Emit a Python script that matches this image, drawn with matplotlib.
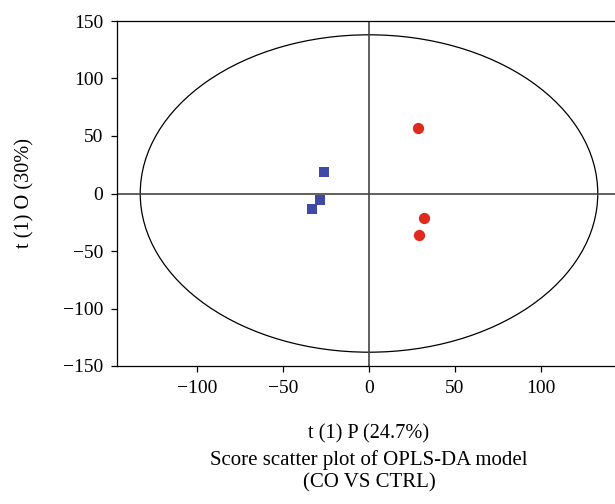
import matplotlib
matplotlib.use("Agg")
import matplotlib.pyplot as plt
from matplotlib.patches import Ellipse

# scores
co_x = [-26.2, -28.3, -33.0]
co_y = [19.0, -5.5, -13.4]
ctrl_x = [28.3, 31.9, 29.0]
ctrl_y = [57.1, -21.0, -36.0]

# Hotelling T2 ellipse half-axes
ellipse_a = 133.0
ellipse_b = 138.0

x_ticks = [-100, -50, 0, 50, 100]
y_ticks = [-150, -100, -50, 0, 50, 100, 150]

plt.rcParams['font.family'] = ['Liberation Serif', 'DejaVu Serif']

fig = plt.figure(figsize=(6.15, 5.04), dpi=100)
ax = fig.add_axes([117 / 615, 1 - 366 / 504, 504 / 615, 345 / 504])

ax.add_patch(Ellipse((0, 0), 2 * ellipse_a, 2 * ellipse_b, fill=False,
                     edgecolor='black', linewidth=0.9))
ax.axhline(0, color='#444444', linewidth=1.2, zorder=1)
ax.axvline(0, color='#444444', linewidth=1.2, zorder=1)

ax.scatter(co_x, co_y, marker='s', s=52, color='#4048A8', linewidths=0, zorder=3)
ax.scatter(ctrl_x, ctrl_y, marker='o', s=66, color='#E02A1E', linewidths=0, zorder=3)

ax.set_xlim(-146.5, 146.5)
ax.set_ylim(-150, 150)
ax.set_xticks(x_ticks)
ax.set_yticks(y_ticks)
ax.set_xticklabels([str(v).replace('-', '\u2212') for v in x_ticks])
ax.set_yticklabels([str(v).replace('-', '\u2212') for v in y_ticks])
ax.tick_params(direction='out', length=4, width=0.9, labelsize=14, pad=6)

for side in ['top', 'left', 'bottom']:
    ax.spines[side].set_linewidth(0.9)
ax.spines['right'].set_visible(False)

ax.set_xlabel('t (1) P (24.7%)', fontsize=14.6, va='baseline')
ax.xaxis.set_label_coords(0.5, (366 - 438) / 345)
ax.set_ylabel('t (1) O (30%)', fontsize=14.6, va='center')
ax.yaxis.set_label_coords((25 - 117) / 504, 0.5)

fig.text(369 / 615, 1 - 465 / 504, 'Score scatter plot of OPLS-DA model',
         ha='center', va='baseline', fontsize=15)
fig.text(369 / 615, 1 - 487 / 504, '(CO VS CTRL)',
         ha='center', va='baseline', fontsize=15)

fig.savefig('out.png', dpi=100)
